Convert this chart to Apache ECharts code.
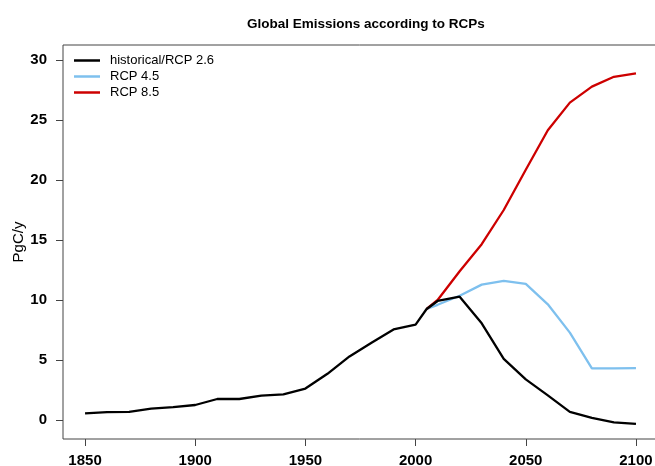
<!DOCTYPE html>
<html>
<head>
<meta charset="utf-8">
<script src="https://cdn.jsdelivr.net/npm/echarts@6/dist/echarts.min.js"></script>
<style>
html,body{margin:0;padding:0;background:#fff;}
#c{width:655px;height:466px;}
</style>
</head>
<body>
<div id="c"></div>
<script>
// ---- data ----
var histYears = [1850,1860,1870,1880,1890,1900,1910,1920,1930,1940,1950,1960,1970,1980,1990,2000,2005];
var histValues = [0.55,0.66,0.68,0.95,1.07,1.25,1.75,1.75,2.03,2.14,2.62,3.85,5.3,6.44,7.55,7.95,9.25];
var rcpYears = [2005,2010,2020,2030,2040,2050,2060,2070,2080,2090,2100];
var rcp26Values = [9.25,9.92,10.28,8.06,5.1,3.38,2.05,0.68,0.18,-0.2,-0.33];
var rcp45Values = [9.25,9.6,10.35,11.28,11.6,11.35,9.64,7.28,4.3,4.3,4.33];
var rcp85Values = [9.25,10.0,12.4,14.65,17.5,20.85,24.15,26.45,27.78,28.6,28.88];
var xTicks = [1850,1900,1950,2000,2050,2100];
var yTicks = [0,5,10,15,20,25,30];
var seriesNames = ['historical/RCP 2.6','RCP 4.5','RCP 8.5'];
var seriesColors = ['#000000','#7ec0ee','#cd0000'];

function pairs(xs, ys){ return xs.map(function(x,i){ return [x, ys[i]]; }); }
var blackData = pairs(histYears, histValues).concat(pairs(rcpYears.slice(1), rcp26Values.slice(1)));

var FONT = '"Liberation Sans", Arial, Helvetica, sans-serif';
var chart = echarts.init(document.getElementById('c'), null, {renderer:'canvas'});
chart.setOption({
  animation:false,
  backgroundColor:'#ffffff',
  title:{
    text:'Global Emissions according to RCPs',
    left:242, top:12,
    textStyle:{fontFamily:FONT,fontSize:13.5,fontWeight:'bold',color:'#000'}
  },
  legend:{
    orient:'vertical', left:74, top:52.5, padding:0, itemGap:0,
    itemWidth:26, itemHeight:2.5, icon:'rect',
    data:seriesNames,
    textStyle:{fontFamily:FONT,fontSize:13,color:'#000',lineHeight:16,padding:[0,0,0,5]}
  },
  grid:{left:63, top:45, right:-3, bottom:27, outerBoundsMode:'none', containLabel:false,
    show:true, borderColor:'#444', borderWidth:1, backgroundColor:'transparent'},
  xAxis:{
    type:'value', min:1840, max:2110,
    axisLine:{show:false, onZero:false},
    splitLine:{show:false},
    axisTick:{show:true, length:7, customValues:xTicks, lineStyle:{color:'#444'}},
    axisLabel:{customValues:xTicks, margin:14, fontFamily:FONT, fontSize:15, fontWeight:'bold', color:'#000',
      formatter:function(v){ return String(v); }}
  },
  yAxis:{
    type:'value', min:-1.583, max:31.25,
    name:'PgC/y', nameLocation:'middle', nameGap:37, nameRotate:90, nameMoveOverlap:false,
    nameTextStyle:{fontFamily:FONT,fontSize:15,color:'#000'},
    axisLine:{show:false, onZero:false},
    splitLine:{show:false},
    axisTick:{show:true, length:7, customValues:yTicks, lineStyle:{color:'#444'}},
    axisLabel:{customValues:yTicks, margin:16, fontFamily:FONT, fontSize:15, fontWeight:'bold', color:'#000'}
  },
  series:[
    {name:seriesNames[1], type:'line', data:pairs(rcpYears, rcp45Values), showSymbol:false, symbol:'none',
     lineStyle:{width:2.3,color:seriesColors[1]}, itemStyle:{color:seriesColors[1]}, z:2},
    {name:seriesNames[2], type:'line', data:pairs(rcpYears, rcp85Values), showSymbol:false, symbol:'none',
     lineStyle:{width:2.3,color:seriesColors[2]}, itemStyle:{color:seriesColors[2]}, z:3},
    {name:seriesNames[0], type:'line', data:blackData, showSymbol:false, symbol:'none',
     lineStyle:{width:2.3,color:seriesColors[0]}, itemStyle:{color:seriesColors[0]}, z:4}
  ]
});
</script>
</body>
</html>
